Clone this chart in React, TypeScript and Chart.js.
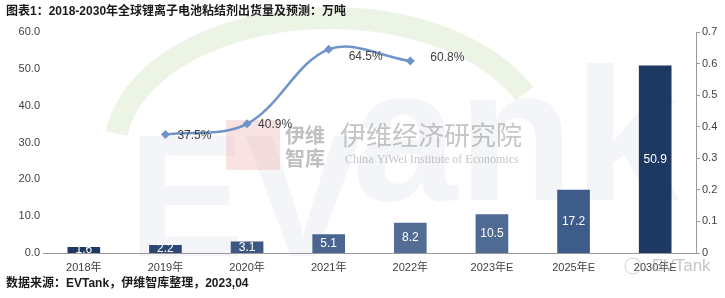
import React, { useEffect, useRef } from "react";
import { Chart, registerables } from "chart.js";

Chart.register(...registerables);

const TITLE = "图表1：2018-2030年全球锂离子电池粘结剂出货量及预测：万吨";
const SOURCE = "数据来源：EVTank，伊维智库整理，2023,04";
const categories = ["2018年", "2019年", "2020年", "2021年", "2022年", "2023年E", "2025年E", "2030年E"];
const shipments = [1.6, 2.2, 3.1, 5.1, 8.2, 10.5, 17.2, 50.9];
const shareValues = [null, 0.375, 0.409, 0.645, 0.608, null, null, null];
const shareLabels = ["", "37.5%", "40.9%", "64.5%", "60.8%", "", "", ""];
const leftTicks = [0, 10, 20, 30, 40, 50, 60];
const rightTicks = [0, 0.1, 0.2, 0.3, 0.4, 0.5, 0.6, 0.7];

const barColors = ["#1f3864", "#2d4874", "#3c5883", "#4a6590", "#536d95", "#4f6a93", "#3e5c8a", "#1d3962"];
const lineLabelOffsets = [
  [0, 0], [12, 1], [11, 1], [20, 7], [20, -3], [0, 0], [0, 0], [0, 0],
];

const FONT = "'Liberation Sans', Arial, sans-serif";
const CJK = "'Liberation Sans', 'Noto Sans CJK SC', sans-serif";

const watermarkPlugin = {
  id: "watermark",
  beforeDraw(chart: any) {
    const ctx = chart.ctx;
    ctx.save();
    ctx.beginPath();
    ctx.ellipse(330, 150, 215, 132, 0, Math.PI * 1.04, Math.PI * 1.86);
    ctx.strokeStyle = "rgba(195,222,175,0.32)";
    ctx.lineWidth = 22;
    ctx.stroke();
    ctx.fillStyle = "rgba(195,205,220,0.2)";
    ctx.textBaseline = "alphabetic";
    ctx.textAlign = "left";
    ctx.font = "bold 175px 'Liberation Sans', Arial, sans-serif";
    ctx.fillText("EV", 128, 256);
    ctx.font = "bold 190px 'Liberation Sans', Arial, sans-serif";
    ctx.fillText("ank", 352, 200);
    ctx.fillStyle = "rgba(235,160,160,0.3)";
    ctx.fillRect(226, 120, 54, 50);
    ctx.fillStyle = "rgba(140,140,140,0.55)";
    ctx.font = "bold 20px 'Noto Sans CJK SC', sans-serif";
    ctx.textBaseline = "middle";
    ctx.fillText("伊维", 285, 135);
    ctx.fillText("智库", 285, 158);
    ctx.fillStyle = "rgba(150,150,150,0.55)";
    ctx.font = "26px 'Noto Sans CJK SC', sans-serif";
    ctx.fillText("伊维经济研究院", 340, 135);
    ctx.font = "12px 'Liberation Serif', 'DejaVu Serif', serif";
    ctx.fillText("China YiWei Institute of Economics", 345, 160);
    ctx.restore();
  },
};

const labelsPlugin = {
  id: "labels",
  afterDatasetsDraw(chart: any) {
    const ctx = chart.ctx;
    ctx.save();
    const barMeta = chart.getDatasetMeta(0);
    ctx.font = `12px ${FONT}`;
    ctx.fillStyle = "#ffffff";
    ctx.textAlign = "center";
    ctx.textBaseline = "middle";
    barMeta.data.forEach((el: any, i: number) => {
      const y = (el.y + el.base) / 2;
      ctx.fillText(shipments[i].toFixed(1), el.x, y);
    });
    const lineMeta = chart.getDatasetMeta(1);
    ctx.fillStyle = "#404040";
    ctx.textAlign = "left";
    lineMeta.data.forEach((el: any, i: number) => {
      if (shareValues[i] == null) return;
      const [dx, dy] = lineLabelOffsets[i];
      ctx.fillText(shareLabels[i], el.x + dx, el.y + dy);
    });
    ctx.fillStyle = "#1a1a1a";
    ctx.font = `bold 12px ${CJK}`;
    ctx.textAlign = "left";
    ctx.fillText(TITLE, 6, 12);
    ctx.fillText(SOURCE, 6, 284);
    ctx.fillStyle = "rgba(160,160,160,0.6)";
    ctx.font = "17px 'Liberation Sans', Arial, sans-serif";
    ctx.fillText("EVTank", 652, 266);
    ctx.beginPath();
    ctx.arc(633, 266, 8, 0, Math.PI * 2);
    ctx.strokeStyle = "rgba(170,170,170,0.5)";
    ctx.lineWidth = 1;
    ctx.stroke();
    ctx.restore();
  },
};

export default function App() {
  const ref = useRef<HTMLCanvasElement | null>(null);
  useEffect(() => {
    if (!ref.current) return;
    const chart = new Chart(ref.current, {
      type: "bar",
      data: {
        labels: categories,
        datasets: [
          {
            type: "bar",
            data: shipments,
            backgroundColor: barColors,
            yAxisID: "y",
            barPercentage: 0.4,
            categoryPercentage: 1,
            order: 1,
          },
          {
            type: "line",
            data: shareValues as any,
            yAxisID: "y1",
            borderColor: "#7094c9",
            backgroundColor: "#7094c9",
            borderWidth: 2.5,
            tension: 0.35,
            pointStyle: "rectRot",
            pointRadius: 4.5,
            pointBackgroundColor: "#7094c9",
            pointBorderWidth: 0,
            spanGaps: false,
            order: 0,
          },
        ],
      },
      options: {
        animation: false,
        responsive: true,
        maintainAspectRatio: false,
        layout: { padding: { top: 32, bottom: 15, left: 0, right: 0 } },
        plugins: { legend: { display: false }, tooltip: { enabled: false }, title: { display: false } },
        scales: {
          x: {
            grid: { display: false, drawTicks: false },
            border: { display: true, color: "#9a9a9a", width: 1 },
            ticks: { color: "#404040", font: { size: 11, family: CJK }, padding: 8, autoSkip: false, maxRotation: 0 },
            afterFit: (s: any) => { s.height = 30; },
          },
          y: {
            position: "left",
            min: 0,
            max: 60,
            afterBuildTicks: (s: any) => { s.ticks = leftTicks.map((v) => ({ value: v })); },
            grid: { display: false, drawTicks: false },
            border: { display: false },
            ticks: {
              color: "#404040",
              font: { size: 11, family: FONT },
              padding: 3,
              callback: (v: any) => Number(v).toFixed(1),
            },
            afterFit: (s: any) => { s.width = 43; },
          },
          y1: {
            position: "right",
            min: 0,
            max: 0.7,
            afterBuildTicks: (s: any) => { s.ticks = rightTicks.map((v) => ({ value: v })); },
            grid: { display: true, drawOnChartArea: false, drawTicks: true, tickLength: 4, color: "#9a9a9a" },
            border: { display: true, color: "#9a9a9a", width: 1 },
            ticks: {
              color: "#404040",
              font: { size: 11, family: FONT },
              padding: 2,
              callback: (v: any) => (Number(v) === 0 ? "0" : Number(v).toFixed(1)),
            },
            afterFit: (s: any) => { s.width = 29; },
          },
        },
      },
      plugins: [watermarkPlugin, labelsPlugin],
    });
    return () => chart.destroy();
  }, []);
  return (
    <div style={{ position: "fixed", left: 0, top: 0, width: 725, height: 298, background: "#fff" }}>
      <canvas ref={ref} />
    </div>
  );
}
